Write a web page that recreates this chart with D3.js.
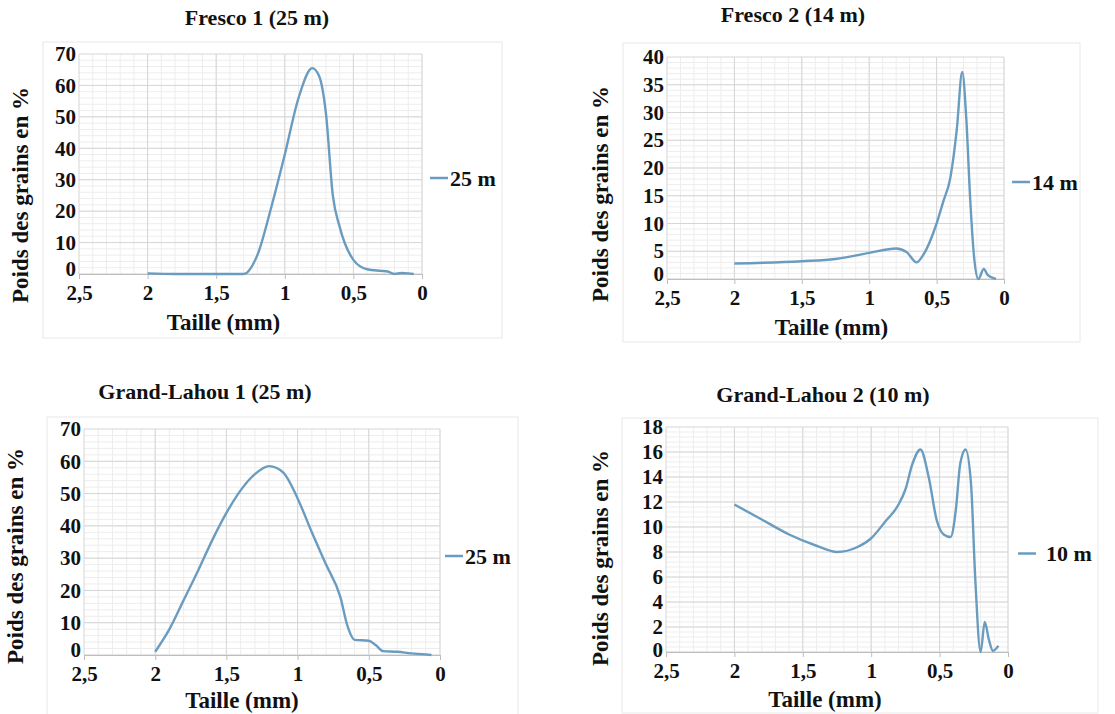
<!DOCTYPE html>
<html>
<head>
<meta charset="utf-8">
<script src="https://cdn.jsdelivr.net/npm/d3@7"></script>
<style>
  body { margin: 0; background: #fff; }
</style>
</head>
<body>
<script>
// grain size (mm) and weight (%)
const xTickValues = [2.5, 2, 1.5, 1, 0.5, 0];

const fresco1Size = [2, 1.8, 1.3, 1.2, 1.1, 1.0, 0.9, 0.8, 0.75, 0.7, 0.65, 0.6, 0.5, 0.4, 0.3, 0.25, 0.2, 0.15, 0.1, 0.06];
const fresco1Weight = [0.2, 0, 0, 6, 21, 38, 56, 65.5, 63, 51, 25, 15, 4.5, 1.5, 1, 0.8, 0, 0.3, 0.2, 0];
const fresco1YTicks = [0, 10, 20, 30, 40, 50, 60, 70];

const fresco2Size = [2, 1.5, 1.25, 1.0, 0.8, 0.72, 0.65, 0.6, 0.5, 0.45, 0.4, 0.35, 0.31, 0.28, 0.25, 0.22, 0.19, 0.15, 0.12, 0.06];
const fresco2Weight = [2.8, 3.2, 3.6, 4.7, 5.5, 4.8, 3, 4.3, 10, 14, 18, 27, 37.3, 29, 14, 3.5, 0, 1.8, 0.7, 0];
const fresco2YTicks = [0, 5, 10, 15, 20, 25, 30, 35, 40];

const lahou1Size = [2, 1.9, 1.8, 1.7, 1.6, 1.5, 1.4, 1.3, 1.2, 1.1, 1.0, 0.9, 0.8, 0.7, 0.65, 0.6, 0.5, 0.45, 0.4, 0.3, 0.2, 0.1, 0.06];
const lahou1Weight = [1, 8, 17, 26, 35.5, 44, 51, 56, 58.5, 56.5, 48.5, 38, 28, 18, 9, 4.7, 4.4, 3, 1.2, 1, 0.5, 0.2, 0];
const lahou1YTicks = [0, 10, 20, 30, 40, 50, 60, 70];

const lahou2Size = [2, 1.8, 1.6, 1.4, 1.25, 1.1, 1.0, 0.9, 0.8, 0.75, 0.7, 0.64, 0.58, 0.52, 0.47, 0.42, 0.38, 0.35, 0.31, 0.27, 0.24, 0.2, 0.17, 0.14, 0.11, 0.07];
const lahou2Weight = [11.8, 10.6, 9.4, 8.5, 8.0, 8.4, 9.1, 10.4, 11.8, 13, 15, 16.2, 14, 10.5, 9.4, 9.2, 11.5, 15, 16.2, 13.4, 6, 0, 2.4, 1, 0.1, 0.5];
const lahou2YTicks = [0, 2, 4, 6, 8, 10, 12, 14, 16, 18];

const titles = ["Fresco 1 (25 m)", "Fresco 2 (14 m)", "Grand-Lahou 1 (25 m)", "Grand-Lahou 2 (10 m)"];
const legendLabels = ["25 m", "14 m", "25 m", "10 m"];

const lineColor = "#6a9cc0";
const serif = "'Liberation Serif', 'DejaVu Serif', serif";
const comma = d => String(d).replace(".", ",");

const svg = d3.select("body").append("svg")
  .attr("width", 1115)
  .attr("height", 714);

function label(sel, size) {
  return sel.style("font-family", serif)
    .style("font-weight", "bold")
    .style("font-size", size + "px")
    .attr("fill", "#111");
}

function drawPanel(p) {
  const g = svg.append("g");

  // outer chart frame
  g.append("rect")
    .attr("x", p.frame[0]).attr("y", p.frame[1])
    .attr("width", p.frame[2]).attr("height", p.frame[3])
    .attr("fill", "none").attr("stroke", "#e8e8e8");

  const x = d3.scaleLinear().domain([2.5, 0]).range([p.left, p.right]);
  const yMax = p.yTicks[p.yTicks.length - 1];
  const y = d3.scaleLinear().domain([0, yMax]).range([p.bottom, p.top]);
  const yStep = p.yTicks[1] - p.yTicks[0];

  // minor grid
  g.selectAll(".vminor").data(d3.range(0, 25).map(i => i / 10))
    .enter().append("line")
    .attr("x1", d => x(d)).attr("x2", d => x(d))
    .attr("y1", p.top).attr("y2", p.bottom)
    .attr("stroke", "#ededed");
  g.selectAll(".hminor").data(d3.range(0, yMax / yStep * 5).map(i => i * yStep / 5))
    .enter().append("line")
    .attr("x1", p.left).attr("x2", p.right)
    .attr("y1", d => y(d)).attr("y2", d => y(d))
    .attr("stroke", "#ededed");

  // major grid
  g.selectAll(".vmajor").data(xTickValues)
    .enter().append("line")
    .attr("x1", d => x(d)).attr("x2", d => x(d))
    .attr("y1", p.top).attr("y2", p.bottom)
    .attr("stroke", "#d6d6d6");
  g.selectAll(".hmajor").data(p.yTicks)
    .enter().append("line")
    .attr("x1", p.left).attr("x2", p.right)
    .attr("y1", d => y(d)).attr("y2", d => y(d))
    .attr("stroke", "#d6d6d6");

  const xAxis = g.append("g")
    .attr("transform", "translate(0," + p.bottom + ")")
    .call(d3.axisBottom(x).tickValues(xTickValues).tickFormat(comma).tickSize(5).tickPadding(6));
  xAxis.select(".domain").attr("stroke", "#bdbdbd");
  xAxis.selectAll(".tick line").attr("stroke", "#bdbdbd");
  label(xAxis.selectAll("text"), 21);

  const yAxis = g.append("g")
    .attr("transform", "translate(" + p.left + ",0)")
    .call(d3.axisLeft(y).tickValues(p.yTicks).tickSize(0).tickPadding(3));
  yAxis.select(".domain").remove();
  label(yAxis.selectAll("text"), 21);
  // the zero label sits a little above its gridline
  yAxis.selectAll("text").filter(d => d === 0).attr("y", -p.zeroLift);

  const line = d3.line()
    .x(d => x(d[0]))
    .y(d => y(d[1]))
    .curve(d3.curveMonotoneX);

  g.append("path")
    .datum(p.size.map((s, i) => [s, p.weight[i]]))
    .attr("fill", "none")
    .attr("stroke", lineColor)
    .attr("stroke-width", 2.4)
    .attr("d", line);

  label(g.append("text"), 22)
    .attr("x", p.titleX).attr("y", p.titleY)
    .attr("text-anchor", "middle")
    .text(p.title);

  label(g.append("text"), 23)
    .attr("x", (p.left + p.right) / 2 + p.xTitleShift).attr("y", p.bottom + p.xTitleDy)
    .attr("text-anchor", "middle")
    .text("Taille (mm)");

  label(g.append("text"), 23)
    .attr("transform", "translate(" + p.yTitleX + "," + p.yTitleY + ") rotate(-90)")
    .attr("text-anchor", "middle")
    .attr("dominant-baseline", "central")
    .text("Poids des grains en %");

  const ly = (p.top + p.bottom) / 2 + 14;
  g.append("line")
    .attr("x1", p.legendX).attr("x2", p.legendX + 18)
    .attr("y1", ly).attr("y2", ly)
    .attr("stroke", lineColor).attr("stroke-width", 2.5);
  label(g.append("text"), 22)
    .attr("x", p.legendX + p.legendGap).attr("y", ly)
    .attr("dominant-baseline", "central")
    .text(p.legend);
}

const panels = [
  { size: fresco1Size, weight: fresco1Weight, yTicks: fresco1YTicks, title: titles[0], legend: legendLabels[0],
    left: 79, right: 422, top: 54, bottom: 274, frame: [43, 42, 459, 296], zeroLift: 5,
    titleX: 257, titleY: 25, xTitleShift: -27, xTitleDy: 56, yTitleX: 20, yTitleY: 195, legendX: 430, legendGap: 20 },
  { size: fresco2Size, weight: fresco2Weight, yTicks: fresco2YTicks, title: titles[1], legend: legendLabels[1],
    left: 667, right: 1004, top: 57, bottom: 279, frame: [623, 43, 457, 299], zeroLift: 5,
    titleX: 793, titleY: 22, xTitleShift: -4, xTitleDy: 56, yTitleX: 600, yTitleY: 194, legendX: 1012, legendGap: 20 },
  { size: lahou1Size, weight: lahou1Weight, yTicks: lahou1YTicks, title: titles[2], legend: legendLabels[2],
    left: 84, right: 440, top: 429, bottom: 655, frame: [47, 417, 471, 300], zeroLift: 5,
    titleX: 205, titleY: 399, xTitleShift: -20, xTitleDy: 53, yTitleX: 15, yTitleY: 556, legendX: 445, legendGap: 20 },
  { size: lahou2Size, weight: lahou2Weight, yTicks: lahou2YTicks, title: titles[3], legend: legendLabels[3],
    left: 666, right: 1008, top: 427, bottom: 652, frame: [622, 418, 476, 295], zeroLift: 2,
    titleX: 823, titleY: 402, xTitleShift: -12, xTitleDy: 55, yTitleX: 600, yTitleY: 558, legendX: 1018, legendGap: 28 }
];

panels.forEach(drawPanel);
</script>
</body>
</html>
